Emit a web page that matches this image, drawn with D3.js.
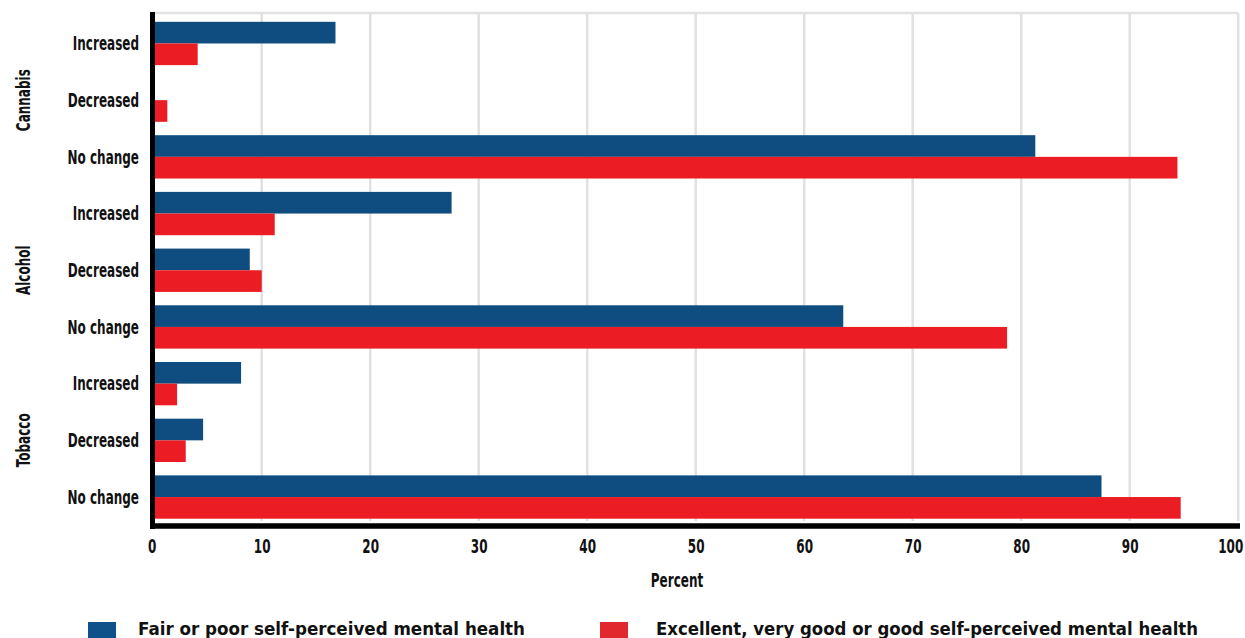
<!DOCTYPE html>
<html>
<head>
<meta charset="utf-8">
<script src="https://cdn.jsdelivr.net/npm/d3@7/dist/d3.min.js"></script>
<style>
  html, body { margin: 0; padding: 0; background: #fff; }
  svg { display: block; }
  .cond { font-family: "DejaVu Sans", sans-serif; font-weight: bold; }
</style>
</head>
<body>
<svg id="chart" width="1245" height="638"></svg>
<script>
// ---- data ----
const groups = ["Cannabis", "Alcohol", "Tobacco"];
const changes = ["Increased", "Decreased", "No change"];
const seriesNames = ["Fair or poor self-perceived mental health", "Excellent, very good or good self-perceived mental health"];
const fairPoor = [16.8, 0, 81.3, 27.5, 8.9, 63.6, 8.1, 4.6, 87.4];
const excellentGood = [4.1, 1.3, 94.4, 11.2, 10.0, 78.7, 2.2, 3.0, 94.7];
const xTicks = [0, 10, 20, 30, 40, 50, 60, 70, 80, 90, 100];
const colors = ["#0f4c7f", "#ec1c24"];

// rows
const rows = [];
groups.forEach((g, gi) => changes.forEach((c, ci) => {
  const i = gi * changes.length + ci;
  rows.push({ key: g + "|" + c, group: g, change: c, values: [fairPoor[i], excellentGood[i]] });
}));

const svg = d3.select("#chart");
const x = d3.scaleLinear().domain([0, 100]).range([153.2, 1238.2]);
const y = d3.scaleBand().domain(rows.map(r => r.key)).range([15, 525.5]).paddingInner(0.236).paddingOuter(0.12);
const ySub = d3.scaleBand().domain([0, 1]).range([0, y.bandwidth()]);

const plotTop = 13, plotBottom = 521;

// gridlines
svg.append("g").selectAll("line").data(xTicks.slice(1)).join("line")
  .attr("x1", d => x(d)).attr("x2", d => x(d))
  .attr("y1", plotTop).attr("y2", plotBottom)
  .attr("stroke", "#e1e1e1").attr("stroke-width", 2.5);
svg.append("line").attr("x1", x(0)).attr("x2", x(100)).attr("y1", plotTop).attr("y2", plotTop)
  .attr("stroke", "#e1e1e1").attr("stroke-width", 2.5);

// bars
const g = svg.append("g").selectAll("g").data(rows).join("g")
  .attr("transform", d => `translate(0,${y(d.key)})`);
g.selectAll("rect").data(d => d.values.map((v, i) => ({ v, i }))).join("rect")
  .attr("x", x(0))
  .attr("y", d => ySub(d.i))
  .attr("width", d => Math.max(0, x(d.v) - x(0)))
  .attr("height", ySub.bandwidth())
  .attr("fill", d => colors[d.i]);

// axes lines
svg.append("line").attr("x1", 152.5).attr("x2", 152.5).attr("y1", 12).attr("y2", 529)
  .attr("stroke", "#000").attr("stroke-width", 5);
svg.append("line").attr("x1", 150).attr("x2", 1240).attr("y1", 526).attr("y2", 526)
  .attr("stroke", "#000").attr("stroke-width", 5.5);

// x axis tick labels
const xAxis = d3.axisBottom(x).tickValues(xTicks).tickSize(0).tickPadding(0);
const xa = svg.append("g").attr("transform", "translate(0,553)").call(xAxis);
xa.select(".domain").remove();
xa.selectAll("text").attr("class", "cond").attr("dy", 0)
  .style("font-size", "20px").attr("fill", "#111")
  .attr("x", d => d === 0 ? -1.5 : (d === 100 ? -8 : 0));

// y labels
const yAxis = d3.axisLeft(y).tickFormat(k => k.split("|")[1]).tickSize(0).tickPadding(0);
const ya = svg.append("g").attr("transform", "translate(139,0)").call(yAxis);
ya.select(".domain").remove();
ya.selectAll("text").attr("class", "cond").style("font-size", "20px").attr("fill", "#111")
  .attr("dy", "0.34em");

// group labels
groups.forEach((gName) => {
  const mid = y(gName + "|Decreased") + y.bandwidth() / 2;
  svg.append("text").attr("class", "cond")
    .attr("transform", `translate(30,${mid}) rotate(-90)`)
    .attr("text-anchor", "middle")
    .style("font-size", "20px").attr("fill", "#111")
    .text(gName);
});

// x title
svg.append("text").attr("class", "cond")
  .attr("x", 677).attr("y", 587).attr("text-anchor", "middle")
  .style("font-size", "20px").attr("fill", "#111").text("Percent");

// condense the narrow-style labels
svg.selectAll("text.cond").each(function () {
  const w = this.getComputedTextLength();
  d3.select(this).attr("textLength", w * 0.6).attr("lengthAdjust", "spacingAndGlyphs");
});

// legend
const legX = [88, 600], legTextX = [138, 656], legLen = [387, 542];
seriesNames.forEach((s, i) => {
  svg.append("rect").attr("x", legX[i]).attr("y", 622).attr("width", 28).attr("height", 18)
    .attr("fill", i === 0 ? "#0f5289" : "#e1282d");
  svg.append("text").attr("x", legTextX[i]).attr("y", 635)
    .style("font-family", "'DejaVu Sans', sans-serif").style("font-weight", "bold")
    .style("font-size", "18px").attr("fill", "#111")
    .attr("textLength", legLen[i]).attr("lengthAdjust", "spacingAndGlyphs")
    .text(s);
});
</script>
</body>
</html>
